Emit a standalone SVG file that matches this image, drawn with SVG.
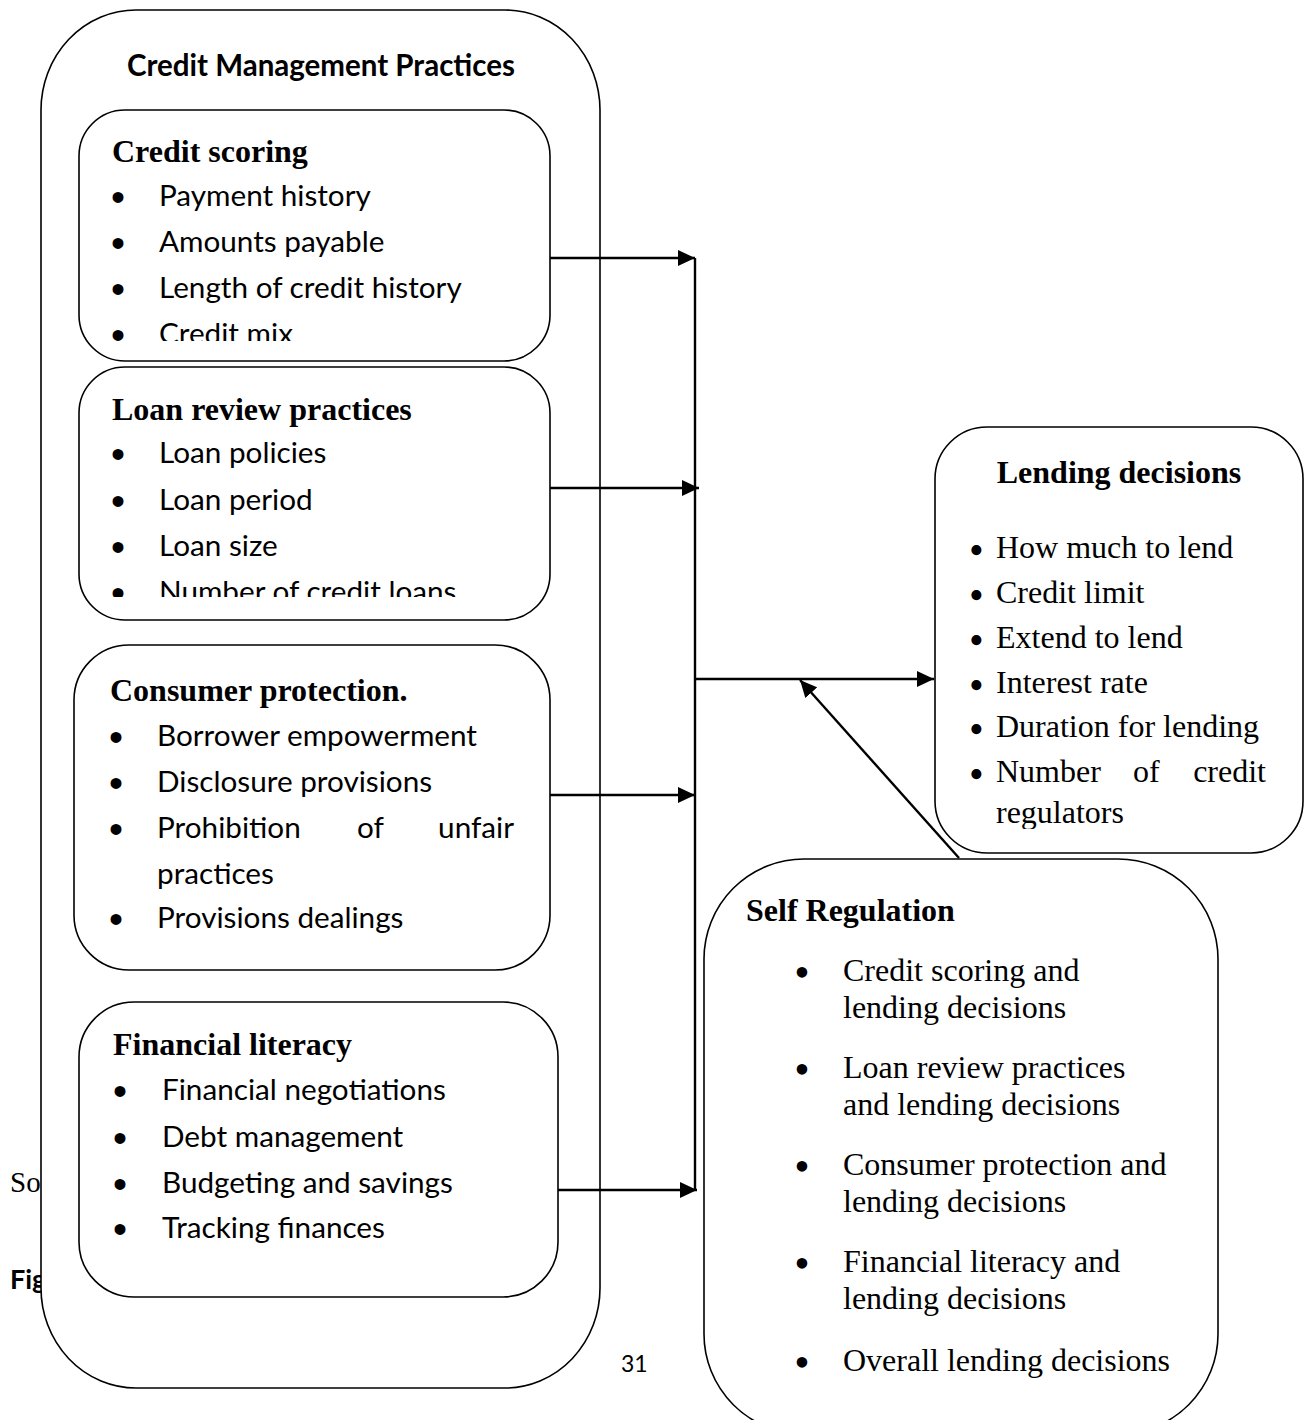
<svg xmlns="http://www.w3.org/2000/svg" width="1306" height="1420" viewBox="0 0 1306 1420">
<style>
.box{fill:#fff;stroke:#000;stroke-width:1.6}
.cal{font-family:Lato,"Liberation Sans",sans-serif;font-size:29.7px;fill:#000}
.calb{font-family:Lato,"Liberation Sans",sans-serif;font-size:29.5px;font-weight:bold;fill:#000}
.tb{font-family:"Liberation Serif","Times New Roman",serif;font-size:32px;font-weight:bold;fill:#000}
.tr{font-family:"Liberation Serif","Times New Roman",serif;font-size:32px;fill:#000}
.b{font-family:"Liberation Sans",Arial,sans-serif;font-size:40px;text-anchor:middle;fill:#000}
.bs{font-family:"Liberation Serif","Times New Roman",serif;font-size:44px;text-anchor:middle;fill:#000}
.bt{font-size:42px}
.ln{fill:none;stroke:#000;stroke-width:2.4}
</style>
<defs>
<marker id="ah" markerWidth="18" markerHeight="16" refX="17" refY="8" orient="auto" markerUnits="userSpaceOnUse">
<path d="M0,0 L17,8 L0,16 z" fill="#000"/>
</marker>
<clipPath id="c1"><rect x="80" y="110" width="470" height="231"/></clipPath>
<clipPath id="c2"><rect x="80" y="367" width="470" height="230"/></clipPath>
<clipPath id="c3"><rect x="936" y="428" width="366" height="401"/></clipPath>
</defs>
<rect width="1306" height="1420" fill="#fff"/>
<g id="page-text">
<text x="10" y="1192" font-family="Liberation Serif,serif" font-size="29px">So</text>
<text x="10" y="1289" class="calb" style="font-size:27px">Fig</text>
<text x="621" y="1372" class="cal" style="font-size:23px">31</text>
</g>
<g id="credit-management-practices">
<rect class="box" x="41" y="10" width="559" height="1378" rx="95" ry="100"/>
<text class="calb" x="321" y="76" text-anchor="middle">Credit Management Practices</text>
</g>
<g id="credit-scoring">
<rect class="box" x="79" y="110" width="471" height="251" rx="46"/>
<text class="tb" x="112" y="162">Credit scoring</text>
<g class="items">
<text class="b" x="118" y="211">•</text><text class="cal" x="159" y="206">Payment history</text>
<text class="b" x="118" y="257">•</text><text class="cal" x="159" y="252">Amounts payable</text>
<text class="b" x="118" y="303">•</text><text class="cal" x="159" y="298">Length of credit history</text>
<g clip-path="url(#c1)"><text class="b" x="118" y="349">•</text><text class="cal" x="159" y="344">Credit mix</text></g>
</g>
</g>
<g id="loan-review-practices">
<rect class="box" x="79" y="367" width="471" height="253" rx="46"/>
<text class="tb" x="112" y="420">Loan review practices</text>
<text class="b" x="118" y="468">•</text><text class="cal" x="159" y="463">Loan policies</text>
<text class="b" x="118" y="515">•</text><text class="cal" x="159" y="510">Loan period</text>
<text class="b" x="118" y="561">•</text><text class="cal" x="159" y="556">Loan size</text>
<g clip-path="url(#c2)"><text class="b" x="118" y="607">•</text><text class="cal" x="159" y="602">Number of credit loans</text></g>
</g>
<g id="consumer-protection">
<rect class="box" x="74" y="645" width="476" height="325" rx="55"/>
<text class="tb" x="110" y="701">Consumer protection.</text>
<text class="b" x="116" y="751">•</text><text class="cal" x="157" y="746">Borrower empowerment</text>
<text class="b" x="116" y="797">•</text><text class="cal" x="157" y="792">Disclosure provisions</text>
<text class="b" x="116" y="843">•</text><text class="cal" x="157" y="838">Prohibition</text><text class="cal" x="357" y="838">of</text><text class="cal" x="514" y="838" text-anchor="end">unfair</text>
<text class="cal" x="157" y="884">practices</text>
<text class="b" x="116" y="933">•</text><text class="cal" x="157" y="928">Provisions dealings</text>
</g>
<g id="financial-literacy">
<rect class="box" x="79" y="1002" width="479" height="295" rx="55"/>
<text class="tb" x="113" y="1055">Financial literacy</text>
<text class="b" x="120" y="1105">•</text><text class="cal" x="162" y="1100">Financial negotiations</text>
<text class="b" x="120" y="1152">•</text><text class="cal" x="162" y="1147">Debt management</text>
<text class="b" x="120" y="1198">•</text><text class="cal" x="162" y="1193">Budgeting and savings</text>
<text class="b" x="120" y="1243">•</text><text class="cal" x="162" y="1238">Tracking finances</text>
</g>
<g id="lending-decisions">
<rect class="box" x="935" y="427" width="368" height="426" rx="52"/>
<text class="tb" x="1119" y="483" text-anchor="middle">Lending decisions</text>
<text class="tr" x="969" y="558"><tspan class="bt" dy="6">•</tspan><tspan x="996" dy="-6">How much to lend</tspan></text>
<text class="tr" x="969" y="603"><tspan class="bt" dy="6">•</tspan><tspan x="996" dy="-6">Credit limit</tspan></text>
<text class="tr" x="969" y="648"><tspan class="bt" dy="6">•</tspan><tspan x="996" dy="-6">Extend to lend</tspan></text>
<text class="tr" x="969" y="693"><tspan class="bt" dy="6">•</tspan><tspan x="996" dy="-6">Interest rate</tspan></text>
<text class="tr" x="969" y="737"><tspan class="bt" dy="6">•</tspan><tspan x="996" dy="-6">Duration for lending</tspan></text>
<text class="tr" x="969" y="782"><tspan class="bt" dy="6">•</tspan><tspan x="996" dy="-6">Number</tspan></text><text class="tr" x="1133" y="782">of</text><text class="tr" x="1266" y="782" text-anchor="end">credit</text>
<g clip-path="url(#c3)"><text class="tr" x="996" y="823">regulators</text></g>
</g>
<g id="self-regulation">
<rect class="box" x="704" y="859" width="514" height="575" rx="100"/>
<text class="tb" x="746" y="921">Self Regulation</text>
<text class="bs" x="802" y="987">•</text><text class="tr" x="843" y="981">Credit scoring and</text>
<text class="tr" x="843" y="1018">lending decisions</text>
<text class="bs" x="802" y="1084">•</text><text class="tr" x="843" y="1078">Loan review practices</text>
<text class="tr" x="843" y="1115">and lending decisions</text>
<text class="bs" x="802" y="1181">•</text><text class="tr" x="843" y="1175">Consumer protection and</text>
<text class="tr" x="843" y="1212">lending decisions</text>
<text class="bs" x="802" y="1278">•</text><text class="tr" x="843" y="1272">Financial literacy and</text>
<text class="tr" x="843" y="1309">lending decisions</text>
<text class="bs" x="802" y="1377">•</text><text class="tr" x="843" y="1371">Overall lending decisions</text>
</g>
<g id="connectors">
<line class="ln" x1="550" y1="258" x2="695" y2="258" marker-end="url(#ah)"/>
<line class="ln" x1="550" y1="488" x2="699" y2="488" marker-end="url(#ah)"/>
<line class="ln" x1="550" y1="795" x2="695" y2="795" marker-end="url(#ah)"/>
<line class="ln" x1="558" y1="1190" x2="697" y2="1190" marker-end="url(#ah)"/>
<line class="ln" x1="695" y1="258" x2="695" y2="1190" stroke-width="2"/>
<line class="ln" x1="695" y1="679" x2="934" y2="679" marker-end="url(#ah)"/>
<line class="ln" x1="959" y1="858" x2="800" y2="680" marker-end="url(#ah)"/>
</g>
</svg>
